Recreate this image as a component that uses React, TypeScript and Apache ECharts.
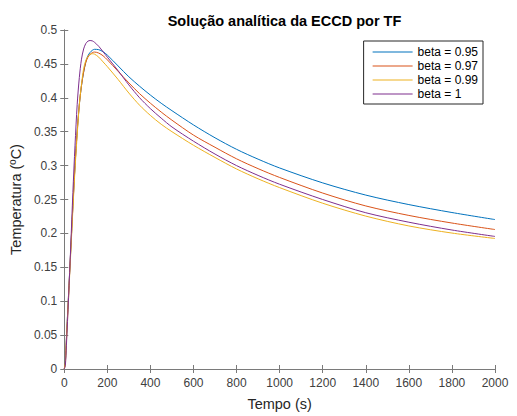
import React, { useEffect, useRef } from "react";
import * as echarts from "echarts";

const times = [0, 5, 10, 20, 30, 40, 50, 60, 70, 80, 90, 100, 110, 120, 130, 140, 160, 180, 200, 250, 300, 350, 400, 450, 500, 600, 700, 800, 900, 1000, 1200, 1400, 1600, 1800, 2000];

const beta095 = [0, 0.01, 0.045, 0.11, 0.175, 0.24, 0.3, 0.35, 0.39, 0.418, 0.438, 0.453, 0.462, 0.467, 0.47, 0.4715, 0.471, 0.468, 0.463, 0.447, 0.431, 0.417, 0.404, 0.392, 0.381, 0.36, 0.341, 0.324, 0.3095, 0.2965, 0.2745, 0.2565, 0.2425, 0.2308, 0.2204];
const beta097 = [0, 0.01, 0.045, 0.11, 0.175, 0.24, 0.3, 0.35, 0.39, 0.418, 0.438, 0.452, 0.46, 0.464, 0.4665, 0.4675, 0.466, 0.462, 0.456, 0.439, 0.422, 0.406, 0.392, 0.379, 0.367, 0.345, 0.327, 0.31, 0.2955, 0.2825, 0.2595, 0.2405, 0.2265, 0.2153, 0.2057];
const beta099 = [0, 0.008, 0.04, 0.105, 0.17, 0.235, 0.295, 0.345, 0.39, 0.42, 0.443, 0.455, 0.461, 0.464, 0.465, 0.4645, 0.46, 0.453, 0.446, 0.427, 0.407, 0.389, 0.374, 0.361, 0.35, 0.33, 0.312, 0.295, 0.2805, 0.2675, 0.2445, 0.2255, 0.211, 0.2005, 0.1925];
const beta1 = [0, 0.005, 0.035, 0.105, 0.18, 0.26, 0.33, 0.39, 0.43, 0.457, 0.472, 0.48, 0.4835, 0.4845, 0.484, 0.482, 0.476, 0.468, 0.46, 0.44, 0.419, 0.4, 0.384, 0.37, 0.357, 0.336, 0.317, 0.3, 0.2855, 0.2725, 0.25, 0.2305, 0.2165, 0.205, 0.1955];

const seriesNames = ["beta = 0.95", "beta = 0.97", "beta = 0.99", "beta = 1"];
const seriesValues = [beta095, beta097, beta099, beta1];
const colors = ["#0072BD", "#D95319", "#EDB120", "#7E2F8E"];

const FONT = "Liberation Sans, Arial, sans-serif";

export default function App() {
  const ref = useRef<HTMLDivElement>(null);
  useEffect(() => {
    if (!ref.current) return;
    const chart = echarts.init(ref.current, undefined, { renderer: "svg" });
    const axisColor = "#7a7a7a";
    const labelColor = "#404040";
    chart.setOption({
      animation: false,
      backgroundColor: "#ffffff",
      textStyle: { fontFamily: FONT },
      title: {
        text: "Solução analítica da ECCD por TF",
        left: 279.5,
        textAlign: "center",
        top: 8,
        textStyle: { fontSize: 14.5, fontWeight: "bold", color: "#000", fontFamily: FONT },
      },
      legend: {
        orient: "vertical",
        right: 34,
        top: 41,
        icon: "rect",
        itemWidth: 40,
        itemHeight: 1.2,
        itemGap: 2,
        padding: [5, 5, 4, 9],
        borderColor: "#262626",
        borderWidth: 1,
        backgroundColor: "#ffffff",
        textStyle: { fontSize: 12, color: "#000", fontFamily: FONT },
        data: seriesNames,
      },
      grid: { left: 64, right: 22, top: 30, bottom: 47, containLabel: false },
      xAxis: [
        {
          type: "value",
          min: 0,
          max: 2000,
          interval: 200,
          name: "Tempo (s)",
          nameLocation: "middle",
          nameGap: 27,
          nameTextStyle: { fontSize: 14.5, color: "#262626", fontFamily: FONT },
          axisLine: { show: true, lineStyle: { color: axisColor } },
          axisTick: { show: true, inside: true, length: 4, lineStyle: { color: axisColor } },
          axisLabel: { fontSize: 12, color: labelColor, margin: 8, fontFamily: FONT, formatter: (v: number) => String(v) },
          splitLine: { show: false },
        },
        {
          type: "value",
          position: "top",
          min: 0,
          max: 2000,
          interval: 200,
          axisLine: { show: true, lineStyle: { color: axisColor } },
          axisTick: { show: true, inside: true, length: 4, lineStyle: { color: axisColor } },
          axisLabel: { show: false },
          splitLine: { show: false },
        },
      ],
      yAxis: [
        {
          type: "value",
          min: 0,
          max: 0.5,
          interval: 0.05,
          name: "Temperatura (ºC)",
          nameLocation: "middle",
          nameGap: 29,
          nameTextStyle: { fontSize: 14.5, color: "#262626", fontFamily: FONT },
          axisLine: { show: true, lineStyle: { color: axisColor } },
          axisTick: { show: true, inside: true, length: 4, lineStyle: { color: axisColor } },
          axisLabel: {
            fontSize: 12,
            color: labelColor,
            margin: 7,
            fontFamily: FONT,
            formatter: (v: number) => String(parseFloat(v.toFixed(2))),
          },
          splitLine: { show: false },
        },
        {
          type: "value",
          position: "right",
          min: 0,
          max: 0.5,
          interval: 0.05,
          axisLine: { show: true, lineStyle: { color: axisColor } },
          axisTick: { show: true, inside: true, length: 4, lineStyle: { color: axisColor } },
          axisLabel: { show: false },
          splitLine: { show: false },
        },
      ],
      series: seriesNames.map((name, i) => ({
        name,
        type: "line",
        xAxisIndex: 0,
        yAxisIndex: 0,
        data: times.map((t, j) => [t, seriesValues[i][j]]),
        symbol: "none",
        smooth: 0.3,
        lineStyle: { width: 1, color: colors[i] },
        itemStyle: { color: colors[i] },
      })),
    });
    return () => chart.dispose();
  }, []);
  return (
    <div
      ref={ref}
      style={{ position: "fixed", left: 0, top: 0, width: 517, height: 416 }}
    />
  );
}
